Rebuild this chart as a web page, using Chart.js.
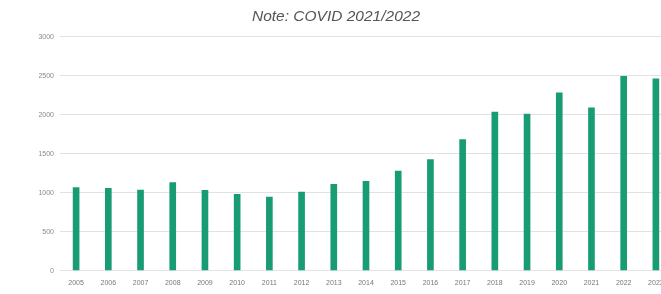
<!DOCTYPE html>
<html>
<head>
<meta charset="utf-8">
<script src="https://cdn.jsdelivr.net/npm/chart.js@4/dist/chart.umd.min.js"></script>
<style>
html,body{margin:0;padding:0;background:#fff;overflow:hidden;width:661px;height:294px;}
#wrap{width:672px;height:294px;}
</style>
</head>
<body>
<div id="wrap"><canvas id="c" width="672" height="294"></canvas></div>
<script>
const categories = ['2005','2006','2007','2008','2009','2010','2011','2012','2013','2014','2015','2016','2017','2018','2019','2020','2021','2022','2023'];
const values = [1064,1055,1033,1128,1030,978,943,1008,1106,1145,1277,1423,1679,2033,2008,2278,2086,2490,2457];
const yTicks = [0,500,1000,1500,2000,2500,3000];
const titleText = 'Note: COVID 2021/2022';

new Chart(document.getElementById('c'), {
  type: 'bar',
  data: {
    labels: categories,
    datasets: [{
      data: values,
      backgroundColor: 'rgb(24,156,116)',
      barThickness: 6
    }]
  },
  options: {
    responsive: false,
    animation: false,
    layout: {padding: {left: 0, right: 0, top: 0, bottom: -1}},
    plugins: {
      legend: {display: false},
      tooltip: {enabled: false},
      title: {
        display: true,
        text: titleText,
        color: '#555',
        font: {family: 'Liberation Sans, Arial, sans-serif', size: 15.5, style: 'italic', weight: 'normal'},
        padding: {top: 7, bottom: 11}
      }
    },
    scales: {
      x: {
        grid: {display: false, drawTicks: false},
        border: {display: true, color: '#e4e4e4', dash: [2,2]},
        ticks: {color: '#777', font: {family: 'Liberation Sans, Arial, sans-serif', size: 7}, padding: 8, maxRotation: 0, autoSkip: false}
      },
      y: {
        min: 0, max: 3000,
        afterBuildTicks: (s) => { s.ticks = yTicks.map(v => ({value: v})); },
        afterFit: (s) => { s.width = 60; },
        grid: {color: '#e2e2e2', drawTicks: false},
        border: {display: false},
        ticks: {color: '#888', font: {family: 'Liberation Sans, Arial, sans-serif', size: 7}, padding: 6, callback: (v) => String(v)}
      }
    }
  }
});
</script>
</body>
</html>
